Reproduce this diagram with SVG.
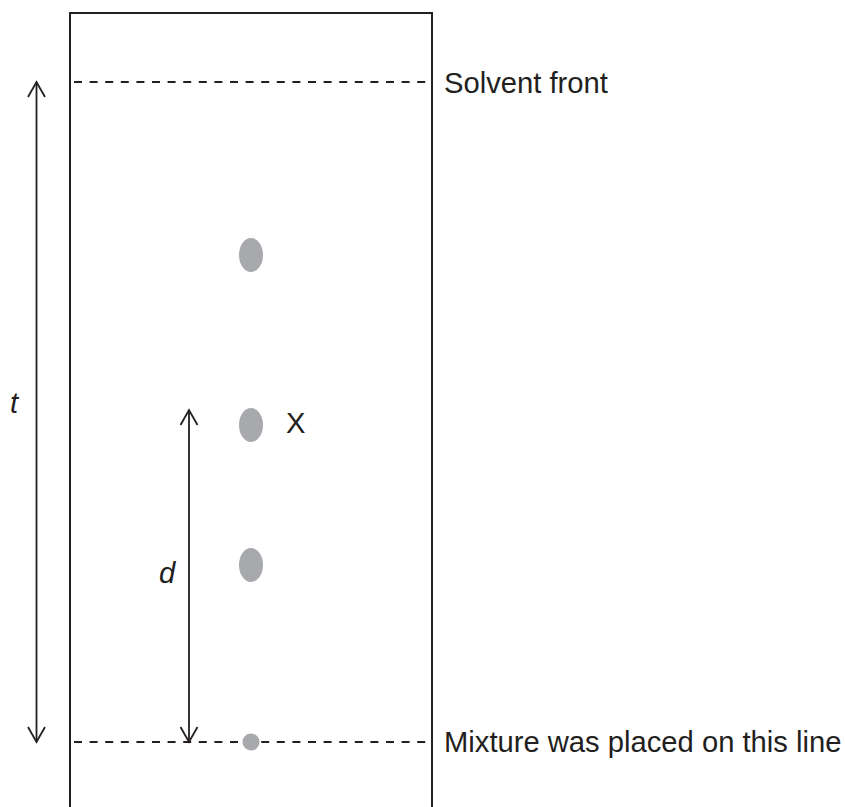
<svg xmlns="http://www.w3.org/2000/svg" width="845" height="807" viewBox="0 0 845 807">
<style>
.frame{fill:none;stroke:#231f20;stroke-width:2}
.dash{stroke:#231f20;stroke-width:2;stroke-dasharray:8 7.6;stroke-dashoffset:-4}
.arr{fill:none;stroke:#231f20;stroke-width:1.8}
.spot{fill:#a7a9ac}
.lbl{font-family:"Liberation Sans",Arial,sans-serif;font-size:29.2px;fill:#231f20}
.it{font-style:italic}
</style>
<defs>
<marker id="ah" markerUnits="userSpaceOnUse" markerWidth="20" markerHeight="20" viewBox="-16 -10 18 20" refX="0" refY="0" orient="auto-start-reverse">
<path d="M-15,-8.5 L0,0 L-15,8.5" fill="none" stroke="#231f20" stroke-width="1.8"/>
</marker>
</defs>
<g id="paper">
<path class="frame" d="M70,807 V13 H432 V807"/>
</g>
<g id="lines">
<line class="dash" x1="70" y1="82" x2="432" y2="82"/>
<line class="dash" x1="70" y1="742" x2="432" y2="742"/>
</g>
<g id="spots">
<ellipse class="spot" cx="251" cy="255" rx="12" ry="17"/>
<ellipse class="spot" cx="251" cy="425" rx="12" ry="17"/>
<ellipse class="spot" cx="251" cy="565" rx="12" ry="17"/>
<circle class="spot" cx="251" cy="742" r="8.5"/>
</g>
<g id="connectors">
<line class="arr" x1="36.5" y1="82" x2="36.5" y2="742" marker-start="url(#ah)" marker-end="url(#ah)"/>
<line class="arr" x1="189" y1="410" x2="189" y2="742" marker-start="url(#ah)" marker-end="url(#ah)"/>
</g>
<g id="labels">
<text class="lbl" x="444" y="93">Solvent front</text>
<text class="lbl" x="444" y="752">Mixture was placed on this line</text>
<text class="lbl" x="286" y="433">X</text>
<text class="lbl it" x="10" y="413">t</text>
<text class="lbl it" x="159" y="583">d</text>
</g>
</svg>
